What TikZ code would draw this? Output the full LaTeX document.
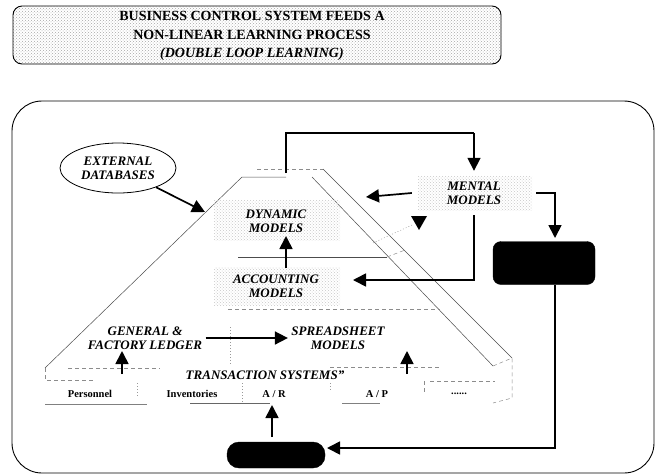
\documentclass[tikz,border=0pt]{standalone}
\usepackage{fontspec}
\setmainfont{Liberation Serif}
\usetikzlibrary{arrows.meta,shapes.geometric,patterns}
\begin{document}
\begin{tikzpicture}[x=1pt,y=-1pt,
  arr/.style={line width=1.7pt,-{Triangle[length=13pt,width=13pt]}},
  plain/.style={line width=1.7pt},
  edge/.style={line width=0.5pt,black!70},
  faint/.style={line width=0.5pt,black!45,dash pattern=on 4pt off 3pt},
  dotty/.style={line width=0.5pt,black!40,dash pattern=on 1pt off 2pt},
  lbl/.style={font=\fontsize{13}{14}\selectfont\bfseries\itshape,align=center},
  cell/.style={font=\fontsize{10.5}{11}\selectfont\bfseries},
  grain/.style={pattern=crosshatch dots,pattern color=black!22},
  darkbox/.style={fill=black,draw=black,rounded corners=8pt}]
\useasboundingbox (0,0) rectangle (658,475);

% heading panel
\node[draw,line width=0.9pt,rounded corners=9pt,pattern=crosshatch dots,pattern color=black!35,
  minimum width=488pt,minimum height=58pt] (head) at (257,35) {};
\node[font=\fontsize{14}{18.5}\selectfont\bfseries,align=center] (title) at (252,36)
  {BUSINESS CONTROL SYSTEM FEEDS A\\NON-LINEAR LEARNING PROCESS\\\textit{(DOUBLE LOOP LEARNING)}};

% outer frame
\draw[line width=0.9pt,rounded corners=30pt] (12,101) rectangle (654,473);

% pyramid: left slope, top and right slab
\draw[edge] (45,368) -- (242,177) -- (286,177);
\draw[faint] (257,169) -- (323,169);
\draw[edge] (312,177) -- (493,366);
\draw[edge] (323,169) -- (512,358);
\draw[faint] (493,366) -- (512,358) -- (512,398) -- (493,403);
\draw[faint] (45,368) -- (45,380) -- (95,380);
% layer dividers
\draw[edge] (238,257) -- (387,257);
\draw[faint] (387,257) -- (405,250);
\draw[dotty] (373,243) -- (412,225);
\draw[faint] (228,309) -- (440,309);
\draw[dotty] (230,327) -- (230,365);
\draw[faint] (68,368) -- (160,368);
\draw[faint] (330,367) -- (440,367);
\draw[faint] (430,381) -- (495,381);
\draw[faint] (424,381) -- (424,392);
% transaction row
\draw[dotty] (137,383) -- (137,398);
\draw[dotty] (242,383) -- (242,403);
\draw[dotty] (330,383) -- (330,392);
\draw[line width=0.6pt,black!50] (45,404) -- (147,404);
\draw[line width=0.6pt,black!60] (190,403) -- (270,403);
\draw[line width=0.6pt,black!50] (342,403) -- (380,403);

% texture behind model labels
\fill[grain] (214,200) rectangle (340,240);
\fill[grain] (214,267) rectangle (340,305);
\fill[grain] (418,176) rectangle (532,210);

% labels
\node[draw,line width=0.8pt,ellipse,fill=white,minimum width=116pt,minimum height=50pt,
  lbl,inner sep=1pt] (ext) at (118,168) {EXTERNAL\\DATABASES};
\node[lbl] (dyn) at (276,221) {DYNAMIC\\MODELS};
\node[lbl] (acc) at (276,286) {ACCOUNTING\\MODELS};
\node[lbl] (gen) at (145,338) {GENERAL \&\\FACTORY LEDGER};
\node[lbl] (spr) at (338,338) {SPREADSHEET\\MODELS};
\node[lbl] (trans) at (265,375) {TRANSACTION SYSTEMS"};
\node[lbl,minimum width=124pt,minimum height=44pt] (mental) at (474,193) {MENTAL\\MODELS};
\node[cell] (pers) at (90,394) {Personnel};
\node[cell] (inv) at (192,394) {Inventories};
\node[cell] (ar) at (274,394) {A / R};
\node[cell] (ap) at (377,394) {A / P};
\node[cell] (more) at (459,394) {......};

% dark control boxes
\node[darkbox,minimum width=102pt,minimum height=43pt] (ctl) at (544,263) {};
\node[darkbox,rounded corners=12pt,minimum width=98pt,minimum height=26pt] (src) at (276,455) {};

% connector end points
\coordinate (slope) at (205,212);
\coordinate (ptop) at (286,173);
\coordinate (loop) at (474,133);
\coordinate (mtip) at (366,197);
\coordinate (mdown) at (474,280);
\coordinate (atip) at (353,280);
\coordinate (ctltop) at (555,238);
\coordinate (ctlbot) at (555,285);
\coordinate (srctip) at (327,448);
\coordinate (artip) at (272,405);
\coordinate (srcst) at (272,437);
\coordinate (gl0) at (122,374);
\coordinate (gl1) at (122,351);
\coordinate (ss0) at (407,374);
\coordinate (ss1) at (407,351);
\coordinate (acctop) at (286,268);
\coordinate (dynbot) at (286,236);

% connectors
\draw[arr] (ext) -- (slope);
\draw[plain] (ptop) |- (loop);
\draw[arr] (loop) -- (mental.north);
\draw[arr] (mental.west) -- (mtip);
\fill (411,216) -- (427,216) -- (419,230) -- cycle;
\draw[arr] (mental.south) -- (mdown) -- (atip);
\draw[arr] (mental.east) -| (ctltop);
\draw[arr] (ctlbot) |- (srctip);
\draw[arr] (srcst) -- (artip);
\draw[arr] (acctop) -- (dynbot);
\draw[arr] (gen.east) -- (spr.west);
\draw[arr] (gl0) -- (gl1);
\draw[arr] (ss0) -- (ss1);
\end{tikzpicture}
\end{document}
